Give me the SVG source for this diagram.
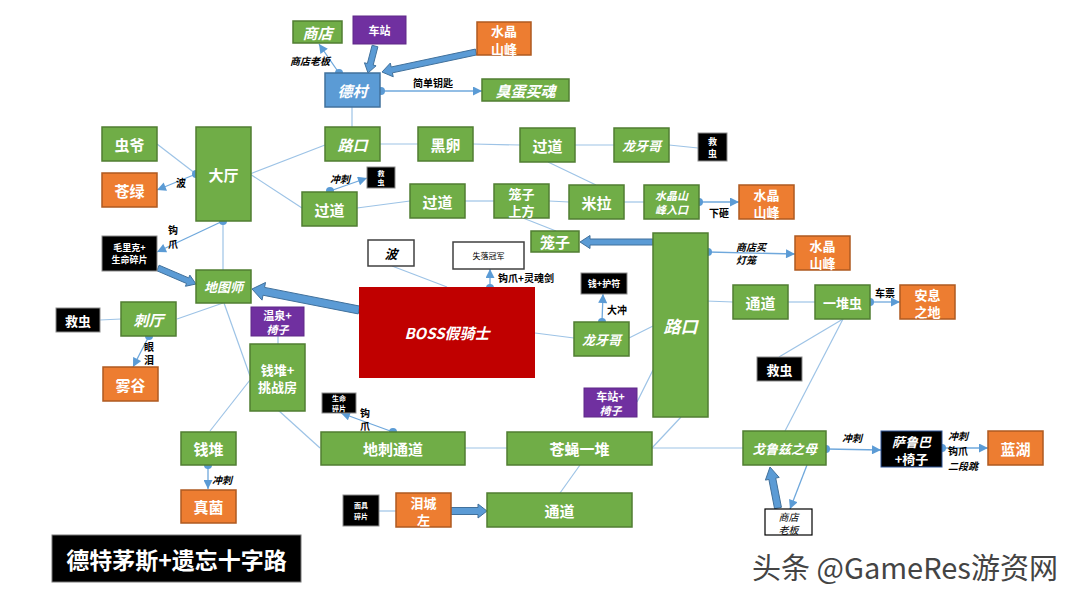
<svg xmlns="http://www.w3.org/2000/svg" width="1080" height="602" viewBox="0 0 1080 602">
<style>
.g{fill:#70AD47;stroke:#507E32;stroke-width:1.5}
.o{fill:#ED7D31;stroke:#AE5A21;stroke-width:1.5}
.p{fill:#7030A0;stroke:#5E2887;stroke-width:1}
.b{fill:#5B9BD5;stroke:#41719C;stroke-width:1.5}
.k{fill:#000;stroke:#8C8C8C;stroke-width:1}
.w{fill:#fff;stroke:#404040;stroke-width:1.5}
.r{fill:#C00000}
text{font-family:"Noto Sans CJK SC","Noto Sans",sans-serif;text-anchor:middle;dominant-baseline:central}
.t{fill:#fff;font-weight:700;font-size:15px}
.d{font-size:13px}
.i{font-style:italic}
.s{font-size:9px}
.m{font-size:11px}
.n{font-size:13px}
.lb{fill:#000;font-weight:700;font-size:10px}
.ln{stroke:#9DC3E6;stroke-width:1.2;fill:none}
.ar{stroke:#6FA8DC;stroke-width:1.3;fill:none;marker-end:url(#ah)}
.dot{fill:#5B9BD5}
.fat{fill:#5B9BD5;stroke:#41719C;stroke-width:1}
</style>
<defs>
<marker id="ah" viewBox="0 0 10 10" refX="10" refY="5" markerWidth="10" markerHeight="9" markerUnits="userSpaceOnUse" orient="auto"><path d="M0,0 L10,5 L0,10 z" fill="#5B9BD5"/></marker>
</defs>
<rect width="1080" height="602" fill="#fff"/>

<g id="connectors">
<line class="ln" x1="352" y1="107" x2="352" y2="127"/>
<line class="ln" x1="380" y1="144" x2="418" y2="144"/>
<line class="ln" x1="473" y1="144" x2="520" y2="145"/>
<line class="ln" x1="575" y1="145" x2="614" y2="145"/>
<line class="ln" x1="669" y1="145" x2="698" y2="148"/>
<line class="ln" x1="250" y1="174" x2="325" y2="145"/>
<line class="ln" x1="250" y1="174" x2="302" y2="208"/>
<line class="ln" x1="357" y1="208" x2="410" y2="201"/>
<line class="ln" x1="465" y1="201" x2="494" y2="201"/>
<line class="ln" x1="549" y1="201" x2="569" y2="202"/>
<line class="ln" x1="624" y1="202" x2="644" y2="202"/>
<line class="ln" x1="548" y1="162" x2="596" y2="185"/>
<line class="ln" x1="523" y1="218" x2="556" y2="231"/>
<line class="ln" x1="157" y1="144" x2="196" y2="174"/>
<line class="ln" x1="223" y1="221" x2="223" y2="270"/>
<line class="ln" x1="223" y1="303" x2="177" y2="319"/>
<line class="ln" x1="121" y1="319" x2="100" y2="320"/>
<line class="ln" x1="278" y1="336" x2="278" y2="344"/>
<line class="ln" x1="224" y1="303" x2="250" y2="376"/>
<line class="ln" x1="250" y1="380" x2="210" y2="431"/>
<line class="ln" x1="278" y1="410" x2="320" y2="448"/>
<line class="ln" x1="465" y1="448" x2="507" y2="448"/>
<line class="ln" x1="580" y1="465" x2="560" y2="493"/>
<line class="ln" x1="652" y1="448" x2="681" y2="417"/>
<line class="ln" x1="652" y1="448" x2="743" y2="448"/>
<line class="ln" x1="379" y1="511" x2="396" y2="511"/>
<line class="ln" x1="392" y1="266" x2="447" y2="287"/>
<line class="ln" x1="535" y1="333" x2="574" y2="338"/>
<line class="ln" x1="629" y1="338" x2="653" y2="326"/>
<line class="ln" x1="637" y1="402" x2="653" y2="370"/>
<line class="ln" x1="706" y1="301" x2="733" y2="302"/>
<line class="ln" x1="788" y1="302" x2="815" y2="302"/>
<line class="ln" x1="843" y1="319" x2="779" y2="357"/>
<line class="ln" x1="843" y1="319" x2="785" y2="431"/>
<line class="ar" x1="339" y1="73" x2="319" y2="44"/>
<line class="ar" x1="381" y1="91" x2="482" y2="91"/>
<line class="ar" x1="330" y1="191" x2="367" y2="178"/>
<line class="ar" x1="196" y1="174" x2="157" y2="190"/>
<line class="ar" x1="223" y1="221" x2="157" y2="252"/>
<line class="ar" x1="149" y1="336" x2="133" y2="367"/>
<line class="ar" x1="208" y1="465" x2="208" y2="489"/>
<line class="ar" x1="393" y1="432" x2="341" y2="413"/>
<line class="ar" x1="490" y1="288" x2="490" y2="269"/>
<line class="ar" x1="602" y1="322" x2="603" y2="294"/>
<line class="ar" x1="699" y1="202" x2="739" y2="202"/>
<line class="ar" x1="708" y1="252" x2="795" y2="254"/>
<line class="ar" x1="870" y1="302" x2="900" y2="302"/>
<line class="ar" x1="826" y1="449" x2="881" y2="450"/>
<line class="ar" x1="942" y1="448" x2="988" y2="448"/>
<line class="ar" x1="807" y1="465" x2="790" y2="509"/>
<polygon class="fat" points="377.9,46.75 373.2,65.04 376.07,65.8 368,73 364.45,62.78 367.36,63.54 372.1,45.25"/>
<polygon class="fat" points="476.62,54.93 392.4,72.85 393.24,76.77 382,72 390.32,63.07 391.16,66.99 475.38,49.07"/>
<polygon class="fat" points="653,239 590,239 590,235.5 580,242 590,248.5 590,245 653,245"/>
<polygon class="fat" points="156.9,270.79 186.53,283.49 185.43,286.28 196,284 189.83,275.12 188.73,277.91 159.1,265.21"/>
<polygon class="fat" points="359.77,306.08 264.55,287.39 265.52,282.48 252,289 262.04,300.14 263.01,295.23 358.23,313.92"/>
<polygon class="fat" points="451,507.5 478,507.5 478,504 487,511 478,518 478,514.5 451,514.5"/>
<polygon class="fat" points="781.44,507.33 775.74,478.11 779.17,477.44 770,467 765.43,480.12 768.86,479.45 774.56,508.67"/>
<circle class="dot" cx="339" cy="73" r="4"/>
<circle class="dot" cx="381" cy="91" r="4"/>
<circle class="dot" cx="330" cy="191" r="4"/>
<circle class="dot" cx="196" cy="174" r="4"/>
<circle class="dot" cx="223" cy="221" r="4"/>
<circle class="dot" cx="149" cy="336" r="4"/>
<circle class="dot" cx="208" cy="465" r="4"/>
<circle class="dot" cx="393" cy="432" r="4"/>
<circle class="dot" cx="490" cy="288" r="4"/>
<circle class="dot" cx="602" cy="322" r="4"/>
<circle class="dot" cx="699" cy="202" r="4"/>
<circle class="dot" cx="708" cy="252" r="4"/>
<circle class="dot" cx="870" cy="302" r="4"/>
<circle class="dot" cx="826" cy="449" r="4"/>
<circle class="dot" cx="942" cy="448" r="4"/>
<text class="lb i" x="310" y="60">商店老板</text>
<text class="lb" x="433" y="82">简单钥匙</text>
<text class="lb i" x="340" y="178">冲刺</text>
<text class="lb" x="181" y="182">波</text>
<text class="lb"><tspan x="173" y="229">钩</tspan><tspan x="173" y="242.5">爪</tspan></text>
<text class="lb"><tspan x="149" y="345.5">眼</tspan><tspan x="149" y="358.5">泪</tspan></text>
<text class="lb i" x="222" y="479">冲刺</text>
<text class="lb" x="719" y="212">下砸</text>
<text class="lb i" style="text-anchor:start"><tspan x="736" y="245.5">商店买</tspan><tspan x="736" y="258.5">灯笼</tspan></text>
<text class="lb" x="885" y="292">车票</text>
<text class="lb" x="526" y="277">钩爪+灵魂剑</text>
<text class="lb" x="617" y="309">大冲</text>
<text class="lb"><tspan x="365" y="411.5">钩</tspan><tspan x="365" y="424.5">爪</tspan></text>
<text class="lb i" x="852" y="437">冲刺</text>
<text class="lb i" style="text-anchor:start"><tspan x="948" y="435">冲刺</tspan><tspan x="948" y="450" style="font-style:normal">钩爪</tspan><tspan x="948" y="465">二段跳</tspan></text>
</g>

<g id="n-shop"><rect class="g" x="293" y="21" width="49" height="22"/><text class="t i" x="317.5" y="32">商店</text></g>
<g id="n-station"><rect class="p" x="353" y="16" width="53" height="28"/><text class="t m" x="379.5" y="30">车站</text></g>
<g id="n-crystal1"><rect class="o" x="477" y="22" width="54" height="33"/><text class="t d"><tspan x="504" y="30">水晶</tspan><tspan x="504" y="47.5">山峰</tspan></text></g>
<g id="n-dirtmouth"><rect class="b" x="325" y="73" width="55" height="34"/><text class="t i" x="352.5" y="90">德村</text></g>
<g id="n-egg"><rect class="g" x="482" y="79" width="87" height="22"/><text class="t i" x="525.5" y="90">臭蛋买魂</text></g>
<g id="n-bugdad"><rect class="g" x="102" y="127" width="55" height="34"/><text class="t" x="129.5" y="144">虫爷</text></g>
<g id="n-greenpath"><rect class="o" x="102" y="173" width="55" height="34"/><text class="t" x="129.5" y="190">苍绿</text></g>
<g id="n-hall"><rect class="g" x="196" y="127" width="55" height="94"/><text class="t" x="223.5" y="174">大厅</text></g>
<g id="n-cross1"><rect class="g" x="325" y="127" width="55" height="34"/><text class="t i" x="352.5" y="144">路口</text></g>
<g id="n-blackegg"><rect class="g" x="418" y="127" width="55" height="34"/><text class="t" x="445.5" y="144">黑卵</text></g>
<g id="n-pass1"><rect class="g" x="520" y="128" width="55" height="34"/><text class="t" x="547.5" y="145">过道</text></g>
<g id="n-fang1"><rect class="g" x="614" y="128" width="55" height="34"/><text class="t i n" x="641.5" y="145">龙牙哥</text></g>
<g id="n-grub1"><rect class="k" x="698" y="133" width="29" height="28"/><text class="t s"><tspan x="712.5" y="141">救</tspan><tspan x="712.5" y="153">虫</tspan></text></g>
<g id="n-pass2"><rect class="g" x="302" y="192" width="55" height="34"/><text class="t" x="329.5" y="209">过道</text></g>
<g id="n-grub2"><rect class="k" x="367" y="167" width="28" height="21"/><text class="t" style="font-size:7px"><tspan x="381" y="172.5">救</tspan><tspan x="381" y="182">虫</tspan></text></g>
<g id="n-pass3"><rect class="g" x="410" y="184" width="55" height="34"/><text class="t" x="437.5" y="201">过道</text></g>
<g id="n-cageup"><rect class="g" x="494" y="184" width="55" height="34"/><text class="t n"><tspan x="521.5" y="192.5">笼子</tspan><tspan x="521.5" y="209.5">上方</tspan></text></g>
<g id="n-myla"><rect class="g" x="569" y="185" width="55" height="34"/><text class="t" x="596.5" y="202">米拉</text></g>
<g id="n-peakentry"><rect class="g" x="644" y="185" width="55" height="34"/><text class="t i m"><tspan x="671.5" y="195">水晶山</tspan><tspan x="671.5" y="209">峰入口</tspan></text></g>
<g id="n-crystal2"><rect class="o" x="739" y="185" width="55" height="34"/><text class="t d"><tspan x="766.5" y="193.5">水晶</tspan><tspan x="766.5" y="210.5">山峰</tspan></text></g>
<g id="n-cage"><rect class="g" x="531" y="231" width="48" height="21"/><text class="t" x="555" y="241.5">笼子</text></g>
<g id="n-cross2"><rect class="g" x="653" y="233" width="55" height="184"/><text class="t i" x="680.5" y="325" style="font-size:17px">路口</text></g>
<g id="n-crystal3"><rect class="o" x="795" y="236" width="55" height="34"/><text class="t d"><tspan x="822.5" y="244.5">水晶</tspan><tspan x="822.5" y="261.5">山峰</tspan></text></g>
<g id="n-channel1"><rect class="g" x="733" y="285" width="55" height="34"/><text class="t" x="760.5" y="302">通道</text></g>
<g id="n-bugs"><rect class="g" x="815" y="285" width="55" height="34"/><text class="t n" x="842.5" y="302">一堆虫</text></g>
<g id="n-rest"><rect class="o" x="900" y="285" width="55" height="34"/><text class="t d"><tspan x="927.5" y="293.5">安息</tspan><tspan x="927.5" y="310.5">之地</tspan></text></g>
<g id="n-mask"><rect class="k" x="102" y="236" width="55" height="35"/><text class="t s"><tspan x="129.5" y="247">毛里克+</tspan><tspan x="129.5" y="259">生命碎片</tspan></text></g>
<g id="n-cornifer"><rect class="g" x="196" y="270" width="55" height="33"/><text class="t i n" x="223.5" y="286.5">地图师</text></g>
<g id="n-thorn"><rect class="g" x="121" y="302" width="55" height="34"/><text class="t i" x="148.5" y="319">刺厅</text></g>
<g id="n-grub3"><rect class="k" x="56" y="308" width="44" height="24"/><text class="t n" x="78" y="320">救虫</text></g>
<g id="n-fog"><rect class="o" x="103" y="367" width="55" height="34"/><text class="t" x="130.5" y="384">雾谷</text></g>
<g id="n-spring"><rect class="p" x="251" y="307" width="53" height="29"/><text class="t m"><tspan x="277.5" y="314.5">温泉+</tspan><tspan x="277.5" y="328.5" style="font-style:italic">椅子</tspan></text></g>
<g id="n-geochal"><rect class="g" x="250" y="344" width="55" height="67"/><text class="t n"><tspan x="277.5" y="368.5">钱堆+</tspan><tspan x="277.5" y="385.5">挑战房</tspan></text></g>
<g id="n-geo"><rect class="g" x="181" y="432" width="55" height="33"/><text class="t" x="208.5" y="448.5">钱堆</text></g>
<g id="n-fungal"><rect class="o" x="181" y="490" width="55" height="33"/><text class="t" x="208.5" y="506.5">真菌</text></g>
<g id="n-wave"><rect class="w" x="368" y="240" width="46" height="26"/><text class="i" x="391" y="253" style="font-size:13px;font-weight:700;fill:#000">波</text></g>
<g id="n-champ"><rect class="w" x="453" y="242" width="71" height="27"/><text x="488.5" y="255.5" style="font-size:8px;fill:#000">失落冠军</text></g>
<g id="n-boss"><rect class="r" x="359" y="287" width="176" height="91"/><text class="t i" x="447" y="332">BOSS假骑士</text></g>
<g id="n-charm"><rect class="k" x="581" y="273" width="46" height="21"/><text class="t s" x="604" y="283.5">钱+护符</text></g>
<g id="n-fang2"><rect class="g" x="574" y="322" width="55" height="34"/><text class="t i n" x="601.5" y="339">龙牙哥</text></g>
<g id="n-stationbench"><rect class="p" x="584" y="388" width="53" height="29"/><text class="t m"><tspan x="610.5" y="395.5">车站+</tspan><tspan x="610.5" y="409.5" style="font-style:italic">椅子</tspan></text></g>
<g id="n-mask2"><rect class="k" x="322" y="393" width="34" height="20"/><text class="t" style="font-size:7px"><tspan x="339" y="398">生命</tspan><tspan x="339" y="408">碎片</tspan></text></g>
<g id="n-spikes"><rect class="g" x="321" y="432" width="144" height="33"/><text class="t" x="393" y="448.5">地刺通道</text></g>
<g id="n-flies"><rect class="g" x="507" y="432" width="145" height="33"/><text class="t" x="579.5" y="448.5">苍蝇一堆</text></g>
<g id="n-mask3"><rect class="k" x="343" y="495" width="36" height="31"/><text class="t" style="font-size:7px"><tspan x="361" y="505">面具</tspan><tspan x="361" y="516">碎片</tspan></text></g>
<g id="n-tearcity"><rect class="o" x="396" y="493" width="55" height="34"/><text class="t d"><tspan x="423.5" y="501.5">泪城</tspan><tspan x="423.5" y="518.5">左</tspan></text></g>
<g id="n-channel2"><rect class="g" x="487" y="493" width="145" height="34"/><text class="t" x="559.5" y="510">通道</text></g>
<g id="n-gruz"><rect class="g" x="743" y="431" width="83" height="34"/><text class="t i n" x="784.5" y="448">戈鲁兹之母</text></g>
<g id="n-grub4"><rect class="k" x="757" y="357" width="45" height="24"/><text class="t n" x="779.5" y="369">救虫</text></g>
<g id="n-salubra"><rect x="881" y="431" width="61" height="36" fill="#000" stroke="#2F5597" stroke-width="1"/><text class="t n"><tspan x="911.5" y="440.5" style="font-style:italic">萨鲁巴</tspan><tspan x="911.5" y="457.5">+椅子</tspan></text></g>
<g id="n-bluelake"><rect class="o" x="988" y="431" width="55" height="34"/><text class="t" x="1015.5" y="448">蓝湖</text></g>
<g id="n-shopkeeper"><rect x="765" y="509" width="47" height="26" fill="#fff" stroke="#000" stroke-width="1.2"/><text class="i" style="font-size:10px;fill:#000"><tspan x="788.5" y="515.5">商店</tspan><tspan x="788.5" y="528.5">老板</tspan></text></g>

<g id="title"><rect x="52" y="535" width="249" height="47" fill="#000" stroke="#777" stroke-width="1"/><text class="t" x="176.5" y="558.5" style="font-size:23px">德特茅斯+遗忘十字路</text></g>
<g id="watermark"><text x="752" y="566" style="text-anchor:start;font-size:29px;fill:#444;stroke:#fff;stroke-width:0.6;paint-order:stroke">头条 @GameRes游资网</text></g>
</svg>
